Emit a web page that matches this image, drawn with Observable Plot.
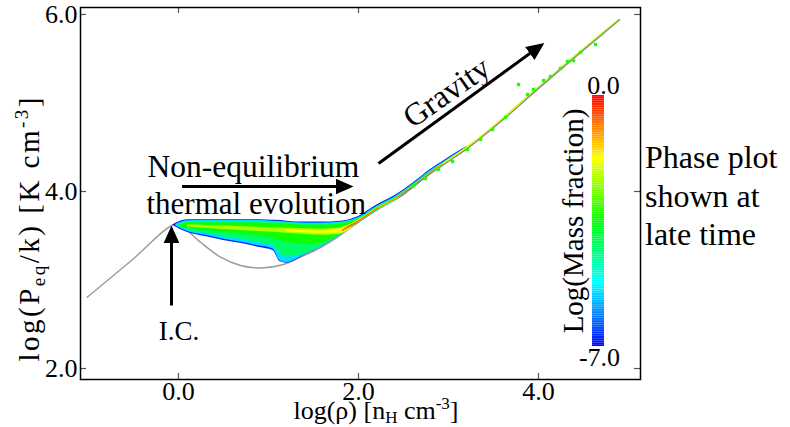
<!DOCTYPE html>
<html>
<head>
<meta charset="utf-8">
<script src="https://cdn.jsdelivr.net/npm/d3@7"></script>
<script src="https://cdn.jsdelivr.net/npm/@observablehq/plot@0.6"></script>
<style>
  body { margin: 0; background: #fff; }
  #chart { position: relative; width: 790px; height: 427px; overflow: hidden;
           font-family: "Liberation Serif", "Times New Roman", serif; color: #000; }
  #chart svg { position: absolute; }
  .note { position: absolute; left: 645px; top: 138px; font-size: 32px; line-height: 38.5px; white-space: nowrap; }
</style>
</head>
<body>
<div id="chart"></div>
<script>
// Axis ticks and extents (log density, log pressure)
const xTicks = [0, 2, 4];
const yTicks = [2, 4, 6];
const xDomain = [-1.089, 5.133];
const yDomain = [1.876, 6.079];

// Thermal-equilibrium curve: log(rho) and log(P/k)
const eqRho = [-1.014, -0.53, -0.044, 0.056, 0.244, 0.467, 0.689, 0.911, 1.167, 1.356, 1.578, 1.767, 1.944, 2.133, 2.319, 2.467, 2.8, 3.208, 3.356, 3.633, 3.911, 4.322, 4.9];
const eqP   = [2.806, 3.214, 3.627, 3.593, 3.427, 3.258, 3.164, 3.136, 3.175, 3.258, 3.367, 3.484, 3.616, 3.748, 3.861, 3.944, 4.203, 4.486, 4.604, 4.836, 5.085, 5.446, 5.940];

// Mass-fraction contour bands of the phase plot: [log rho, lower log P, upper log P]
const bandBlue = [[-0.06,3.615,3.625],[0.02,3.571,3.665],[0.1,3.537,3.680],[0.3,3.491,3.682],[0.5,3.446,3.682],[0.7,3.412,3.682],[0.9,3.367,3.682],[1.05,3.333,3.675],[1.13,3.205,3.672],[1.2,3.190,3.665],[1.4,3.279,3.655],[1.6,3.381,3.655],[1.8,3.508,3.665],[2.0,3.642,3.719],[2.2,3.777,3.844],[2.4,3.889,3.951],[2.6,4.031,4.091],[2.8,4.191,4.248],[3.0,4.330,4.382],[3.2,4.470,4.505]];
const bandCyan = [[-0.03,3.610,3.630],[0.1,3.548,3.670],[0.3,3.505,3.672],[0.5,3.460,3.672],[0.7,3.427,3.672],[0.9,3.383,3.672],[1.05,3.350,3.665],[1.13,3.215,3.662],[1.2,3.198,3.655],[1.4,3.283,3.645],[1.6,3.384,3.645],[1.8,3.510,3.655],[2.0,3.644,3.707],[2.2,3.779,3.832],[2.4,3.891,3.939],[2.6,4.033,4.079],[2.8,4.193,4.236],[3.0,4.332,4.370],[3.2,4.471,4.497]];
const bandTeal = [[0.0,3.605,3.627],[0.1,3.565,3.658],[0.3,3.530,3.660],[0.5,3.490,3.660],[0.7,3.460,3.660],[0.9,3.420,3.658],[1.05,3.390,3.652],[1.13,3.300,3.650],[1.2,3.260,3.645],[1.4,3.295,3.635],[1.6,3.390,3.635],[1.8,3.512,3.645],[2.0,3.646,3.697],[2.2,3.781,3.822],[2.4,3.893,3.929],[2.6,4.035,4.069],[2.8,4.195,4.226],[3.0,4.334,4.360],[3.2,4.472,4.492]];
const bandGreen = [[0.02,3.604,3.621],[0.1,3.585,3.645],[0.3,3.560,3.645],[0.5,3.540,3.645],[0.7,3.520,3.645],[0.9,3.500,3.642],[1.05,3.470,3.637],[1.13,3.450,3.635],[1.2,3.430,3.632],[1.4,3.400,3.620],[1.6,3.420,3.620],[1.8,3.515,3.630],[2.0,3.648,3.688],[2.2,3.783,3.813],[2.4,3.895,3.920],[2.6,4.037,4.060],[2.8,4.197,4.217],[3.0,4.336,4.352],[3.2,4.473,4.490]];
const bandLime = [[0.1,3.600,3.624],[0.3,3.585,3.617],[0.5,3.572,3.610],[0.7,3.560,3.603],[0.9,3.548,3.595],[1.2,3.528,3.585],[1.4,3.515,3.578],[1.6,3.507,3.575],[1.8,3.517,3.590],[2.0,3.650,3.681],[2.2,3.785,3.808],[2.4,3.897,3.916],[2.6,4.039,4.057],[2.8,4.199,4.215],[3.0,4.332,4.358],[3.356,4.592,4.620],[3.911,5.073,5.101],[4.322,5.434,5.462],[4.9,5.930,5.952]];
const bandYellow = [[1.2,3.548,3.566],[1.4,3.535,3.560],[1.6,3.528,3.558],[1.8,3.530,3.580],[2.0,3.652,3.674],[2.2,3.787,3.805],[2.4,3.899,3.913],[2.6,4.041,4.055],[2.8,4.201,4.213],[3.0,4.338,4.352],[3.356,4.600,4.614],[3.911,5.081,5.093]];
const bandRed = [[1.82,3.545,3.560],[1.9,3.590,3.612],[2.0,3.654,3.667],[2.2,3.789,3.801],[2.4,3.901,3.911],[2.6,4.043,4.053],[2.8,4.203,4.211],[2.95,4.310,4.317]];
const bandLevels = [-6.8, -5.5, -4.2, -3.4, -2.3, -1.75, -0.6];

// Isolated dense cells scattered along the collapsing branch
const cloudRho = [2.611, 2.744, 2.889, 3.044, 3.211, 3.356, 3.489, 3.633, 3.778, 3.878, 3.944, 4.056, 4.133, 4.244, 4.322, 4.389, 4.467, 4.633];
const cloudP   = [4.068, 4.147, 4.249, 4.339, 4.475, 4.588, 4.701, 4.836, 5.209, 5.096, 5.153, 5.254, 5.299, 5.390, 5.469, 5.480, 5.571, 5.661];
const cloudLevel = -3.3;

// Annotation arrows (log rho, log P/k)
const arrowFrom = [[0.04, 4.056], [2.222, 4.316], [-0.078, 2.712]];
const arrowTo   = [[1.90, 4.056], [4.029, 5.652], [-0.078, 3.571]];

// Colour map for log(mass fraction)
const massColors = ["#0000ff", "#00ffff", "#00ff00", "#ffff00", "#ff0000"];
const massDomain = [-7, 0];
const colorScale = {type: "linear", domain: massDomain, interpolate: d3.piecewise(d3.interpolateRgb, massColors)};

const serif = "'Liberation Serif', 'Times New Roman', serif";
const eq = eqRho.map((x, i) => ({x, y: eqP[i]}));
const bands = [bandBlue, bandCyan, bandTeal, bandGreen, bandLime, bandYellow, bandRed];
const cloud = cloudRho.map((x, i) => ({x, y: cloudP[i]}));
const arrows = arrowFrom.map((a, i) => ({x1: a[0], y1: a[1], x2: arrowTo[i][0], y2: arrowTo[i][1]}));

const mainPlot = Plot.plot({
  width: 790, height: 427,
  marginLeft: 80, marginRight: 150, marginTop: 7, marginBottom: 48,
  x: {domain: xDomain},
  y: {domain: yDomain},
  color: colorScale,
  style: {fontFamily: serif, fontSize: "26px", background: "white", color: "black", overflow: "visible"},
  marks: [
    Plot.line(eq, {x: "x", y: "y", stroke: "#9a9a9a", strokeWidth: 1.4, curve: "catmull-rom"}),
    ...bands.map((b, i) => Plot.areaY(b, {x: d => d[0], y1: d => d[1], y2: d => d[2], fill: () => bandLevels[i], curve: "monotone-x"})),
    Plot.line(eq.filter(d => d.x >= 2.4), {x: "x", y: "y", stroke: "#8a8a8a", strokeWidth: 1.1, curve: "catmull-rom"}),
    Plot.dot(cloud, {x: "x", y: "y", symbol: "square", r: 1.9, fill: () => cloudLevel}),
    Plot.link(arrows, {x1: "x1", y1: "y1", x2: "x2", y2: "y2", stroke: "black", strokeWidth: 3, markerEnd: "arrow"}),
    Plot.text(["Non-equilibrium"], {x: -0.344, y: 4.278, text: d => d, textAnchor: "start", fontSize: 31.5}),
    Plot.text(["thermal evolution"], {x: -0.356, y: 3.860, text: d => d, textAnchor: "start", fontSize: 31}),
    Plot.text(["Gravity"], {x: 2.978, y: 5.118, text: d => d, rotate: -35, fontSize: 32}),
    Plot.text(["I.C."], {x: 0.006, y: 2.425, text: d => d, fontSize: 27}),
    Plot.tickX(xTicks, {x: d => d, insetTop: 366, stroke: "#555", strokeWidth: 1.2}),
    Plot.tickX(xTicks, {x: d => d, insetBottom: 366, stroke: "#555", strokeWidth: 1.2}),
    Plot.tickY(yTicks, {y: d => d, insetRight: 554, stroke: "#555", strokeWidth: 1.2}),
    Plot.tickY(yTicks, {y: d => d, insetLeft: 554, stroke: "#555", strokeWidth: 1.2}),
    Plot.axisX(xTicks, {anchor: "bottom", tickSize: 0, tickPadding: 2, tickFormat: d => d.toFixed(1), label: null}),
    Plot.axisY(yTicks, {anchor: "left", tickSize: 0, tickPadding: 3, tickFormat: d => d.toFixed(1), label: null}),
    Plot.frame({stroke: "black", strokeWidth: 1.5})
  ]
});

// Filled triangular arrowheads in place of the open chevrons
const svg = d3.select(mainPlot).style("left", "0px").style("top", "0px");
svg.selectAll("marker").each(function () {
  const m = d3.select(this)
    .attr("viewBox", "0 0 18 16").attr("refX", 14).attr("refY", 8)
    .attr("markerWidth", 18).attr("markerHeight", 16)
    .attr("markerUnits", "userSpaceOnUse").attr("orient", "auto")
    .attr("fill", "black").attr("stroke", "none");
  m.selectAll("*").remove();
  m.append("path").attr("d", "M0,0L18,8L0,16Z").attr("fill", "black").attr("stroke", "none");
});

// Axis titles with subscripts and superscripts
const xt = svg.append("text").attr("x", 376).attr("y", 419)
  .attr("text-anchor", "middle").attr("font-size", 26).attr("fill", "black");
xt.append("tspan").text("log(ρ) [n");
xt.append("tspan").attr("dy", 4).attr("font-size", 17).text("H");
xt.append("tspan").attr("dy", -4).text(" cm");
xt.append("tspan").attr("dy", -10).attr("font-size", 17).text("-3");
xt.append("tspan").attr("dy", 10).text("]");

const yt = svg.append("text").attr("transform", "translate(39,229.5) rotate(-90)")
  .attr("text-anchor", "middle").attr("font-size", 29).attr("fill", "black")
  .attr("textLength", 264).attr("lengthAdjust", "spacing");
yt.append("tspan").text("log(P");
yt.append("tspan").attr("dy", 6).attr("font-size", 19).text("eq");
yt.append("tspan").attr("dy", -6).text("/k) [K cm");
yt.append("tspan").attr("dy", -11).attr("font-size", 19).text("-3");
yt.append("tspan").attr("dy", 11).text("]");

// Colour bar for log(mass fraction)
const barLevels = d3.range(-7, 0, 0.05);
const colorBar = Plot.plot({
  width: 110, height: 320,
  marginLeft: 62, marginRight: 36, marginTop: 35, marginBottom: 34,
  x: {domain: [0, 1], axis: null},
  y: {domain: massDomain, axis: null},
  color: colorScale,
  style: {fontFamily: serif, fontSize: "26px", background: "none", color: "black", overflow: "visible"},
  marks: [
    Plot.rect(barLevels, {x1: 0, x2: 1, y1: d => d, y2: d => d + 0.05, fill: d => d + 0.025}),
    Plot.text(["0.0"], {x: 0.5, y: 0, text: d => d, dx: 5, dy: -10}),
    Plot.text(["-7.0"], {x: 0.5, y: -7, text: d => d, dx: 1, dy: 11}),
    Plot.text(["Log(Mass fraction)"], {x: 0, y: -3.5, text: d => d, dx: -19, rotate: -90, fontSize: 29})
  ]
});
d3.select(colorBar).style("left", "530px").style("top", "60px");

const chart = document.getElementById("chart");
chart.appendChild(mainPlot);
chart.appendChild(colorBar);
const note = document.createElement("div");
note.className = "note";
note.innerHTML = "Phase plot<br>shown at<br>late time";
chart.appendChild(note);
</script>
</body>
</html>
